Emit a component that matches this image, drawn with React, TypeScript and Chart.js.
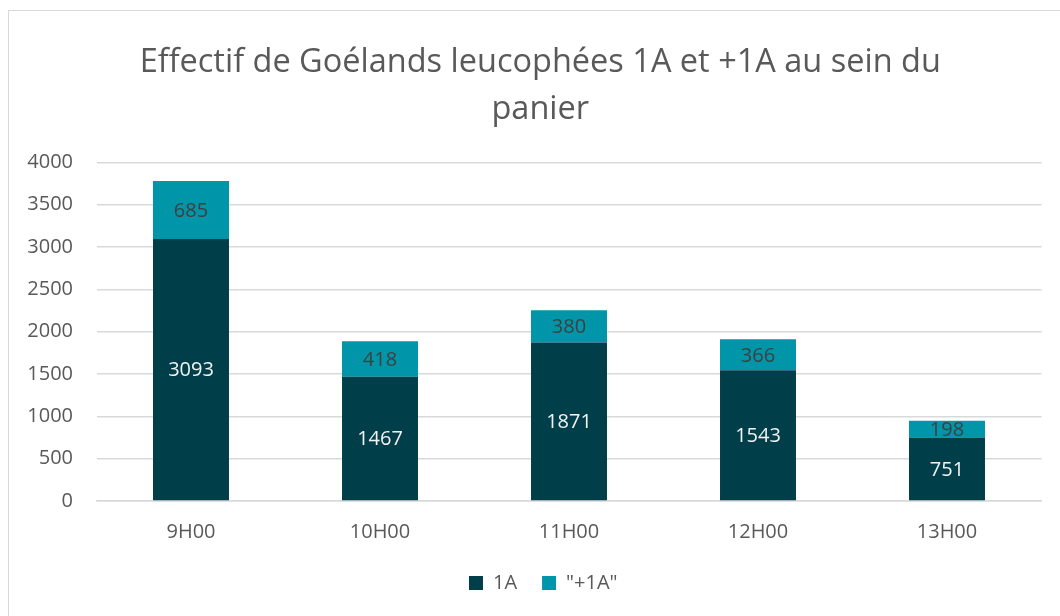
import React, { useEffect, useRef } from "react";
import { Chart, registerables } from "chart.js";

Chart.register(...registerables);

const categories = ["9H00", "10H00", "11H00", "12H00", "13H00"];
const values1A = [3093, 1467, 1871, 1543, 751];
const valuesPlus1A = [685, 418, 380, 366, 198];
const yTicks = [0, 500, 1000, 1500, 2000, 2500, 3000, 3500, 4000];
const titleLines = ["Effectif de Goélands leucophées 1A et +1A au sein du", "panier"];

const FONT = "'Open Sans', sans-serif";
const TEXT = "#595959";

const labelPlugin = {
  id: "segLabels",
  afterDatasetsDraw(chart: any) {
    const ctx = chart.ctx;
    ctx.save();
    ctx.font = `20px ${FONT}`;
    ctx.textAlign = "center";
    ctx.textBaseline = "middle";
    chart.data.datasets.forEach((ds: any, di: number) => {
      const meta = chart.getDatasetMeta(di);
      meta.data.forEach((el: any, i: number) => {
        const v = ds.data[i];
        const cy = (el.y + el.base) / 2;
        ctx.fillStyle = di === 0 ? "#f2f2f2" : "#404040";
        ctx.fillText(String(v), el.x, cy + 1);
      });
    });
    ctx.restore();
  },
};

const shiftPlugin = {
  id: "shiftBoxes",
  afterLayout(chart: any) {
    if (chart.legend) {
      chart.legend.left += 18;
      chart.legend.right += 18;
    }
    if (chart.titleBlock) {
      chart.titleBlock.left += 15;
      chart.titleBlock.right += 15;
    }
  },
};

export default function App() {
  const ref = useRef<HTMLCanvasElement | null>(null);
  useEffect(() => {
    document.body.style.overflow = "hidden";
    const chart = new Chart(ref.current as HTMLCanvasElement, {
      type: "bar",
      data: {
        labels: categories,
        datasets: [
          { label: "1A", data: values1A, backgroundColor: "#003F4A", borderWidth: 0 },
          { label: '"+1A"', data: valuesPlus1A, backgroundColor: "#0095A8", borderWidth: 0 },
        ],
      },
      options: {
        responsive: false,
        animation: false,
        layout: { padding: { left: 0, right: 27.5, top: 0, bottom: 14 } },
        datasets: { bar: { categoryPercentage: 1, barPercentage: 0.402 } },
        plugins: {
          title: {
            display: true,
            text: titleLines,
            color: TEXT,
            font: { family: FONT, size: 32.5, weight: "normal", lineHeight: 1.45 },
            padding: { top: 28, bottom: 29 },
          },
          legend: {
            position: "bottom",
            labels: {
              color: TEXT,
              font: { family: FONT, size: 20 },
              boxWidth: 14,
              boxHeight: 14,
              padding: 25,
            },
          },
          tooltip: { enabled: false },
        },
        scales: {
          x: {
            stacked: true,
            grid: { display: false, drawTicks: false },
            border: { color: "#d9d9d9", width: 1.5 },
            ticks: { color: TEXT, font: { family: FONT, size: 20 }, padding: 19 },
            afterFit: (axis: any) => {
              axis.height = 47;
            },
          },
          y: {
            stacked: true,
            min: 0,
            max: 4000,
            afterBuildTicks: (axis: any) => {
              axis.ticks = yTicks.map((v) => ({ value: v }));
            },
            afterFit: (axis: any) => {
              axis.width = 87.5;
            },
            grid: { color: "#d9d9d9", lineWidth: 1.5, drawTicks: false },
            border: { display: false },
            ticks: {
              color: TEXT,
              font: { family: FONT, size: 20 },
              padding: 23.5,
              callback: (v: any) => String(v),
            },
          },
        },
      },
      plugins: [labelPlugin, shiftPlugin],
    } as any);
    return () => chart.destroy();
  }, []);
  return (
    <div
      style={{
        position: "absolute",
        left: 8,
        top: 10,
        width: 1070,
        height: 620,
        border: "1px solid #d9d9d9",
        background: "#fff",
      }}
    >
      <canvas ref={ref} width={1060} height={606} style={{ display: "block" }} />
    </div>
  );
}
